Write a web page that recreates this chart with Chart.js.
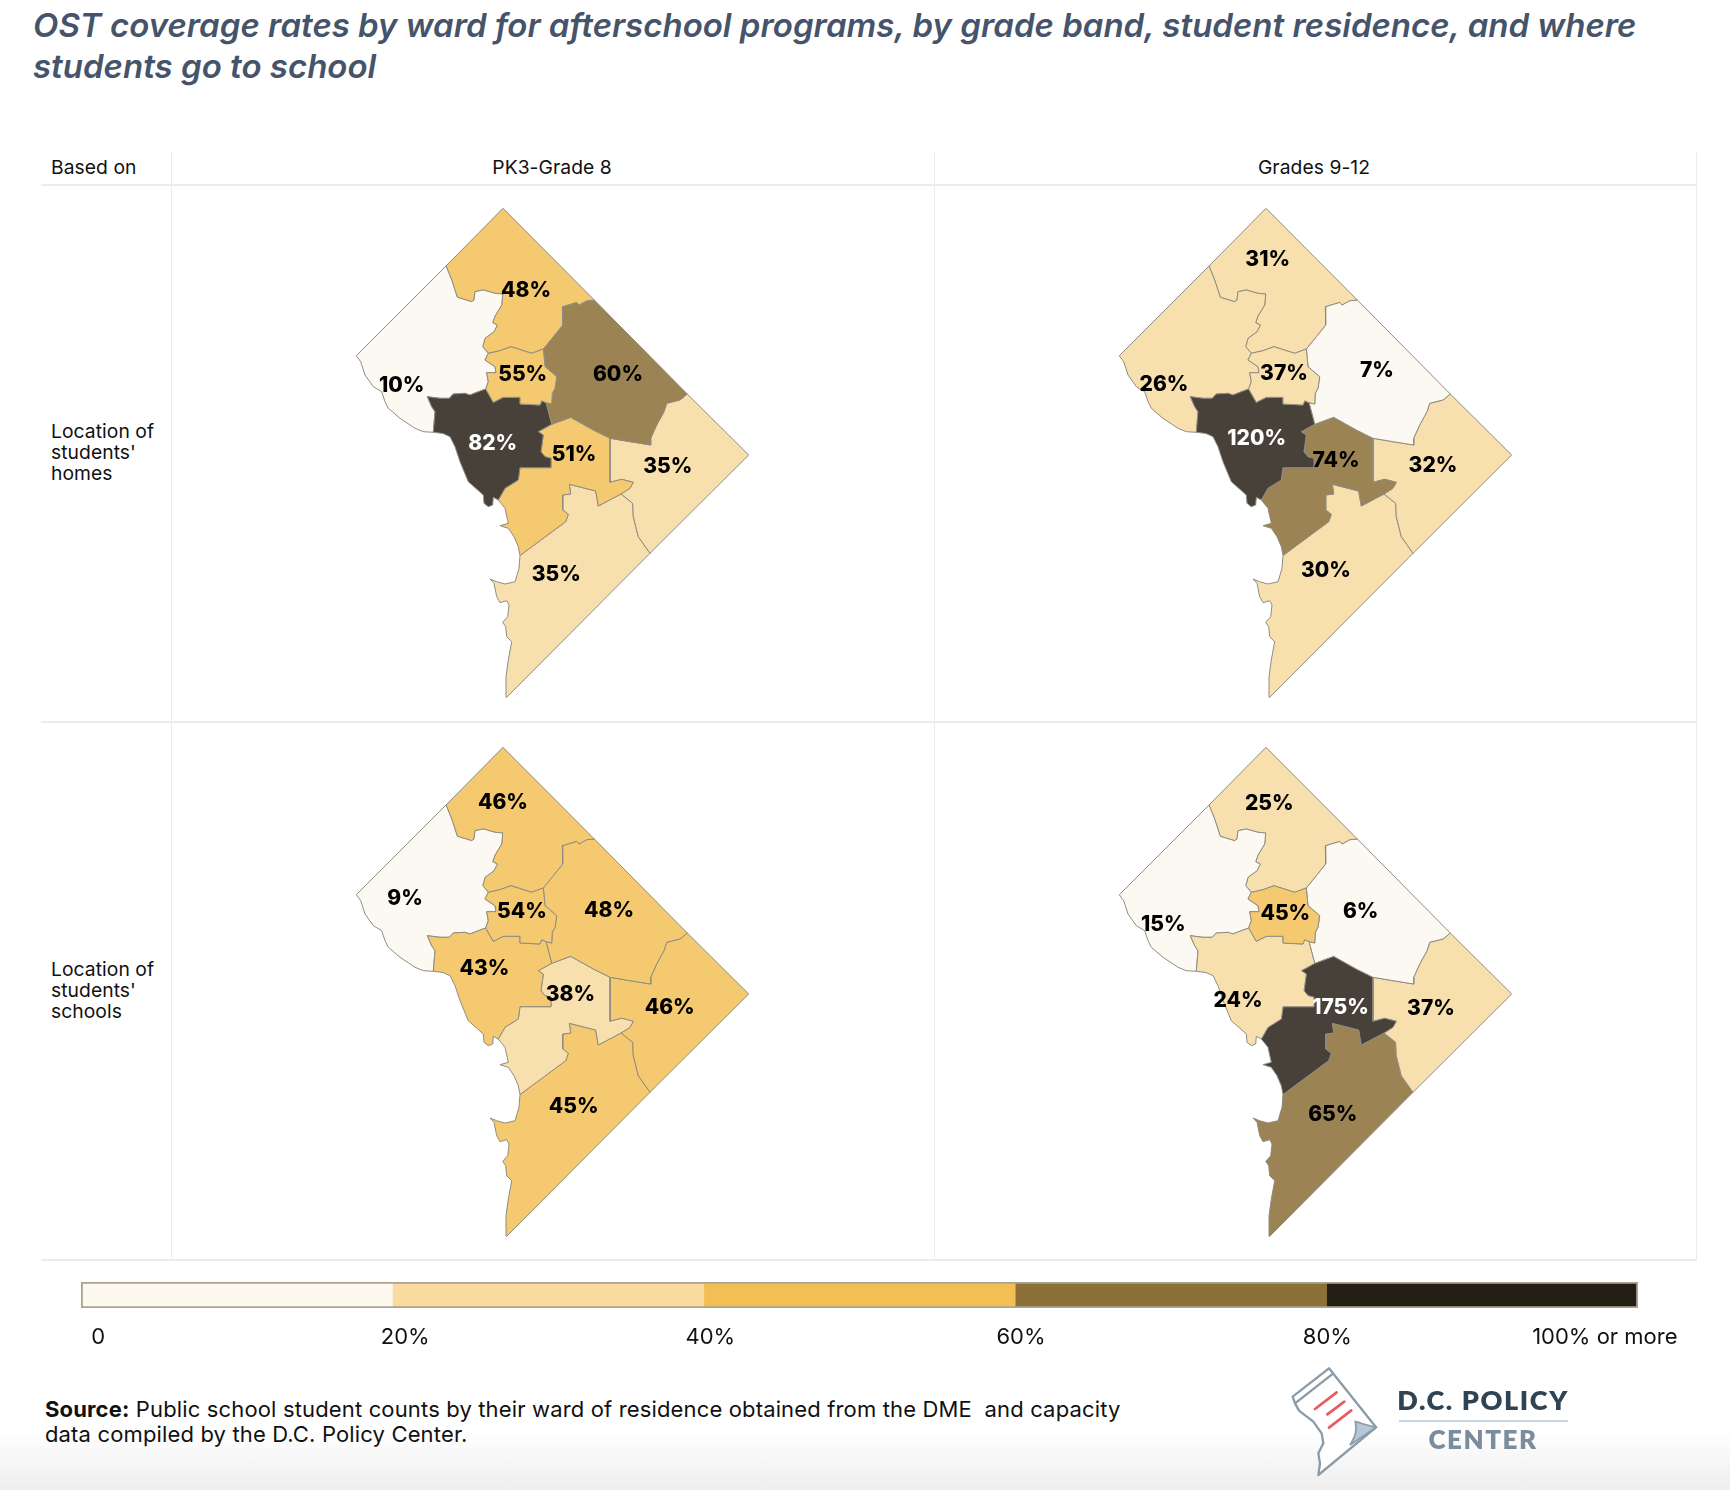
<!DOCTYPE html>
<html><head><meta charset="utf-8">
<script src="https://cdn.jsdelivr.net/npm/chart.js@4"></script>
<style>
html,body{margin:0;padding:0;background:#fff;width:1730px;height:1490px;overflow:hidden;font-family:Inter,sans-serif;color:#111}
.abs{position:absolute;white-space:nowrap}
.ln{position:absolute;background:#ececec}
canvas{position:absolute}
.t{font-size:19.3px;letter-spacing:0.05px}
</style></head><body>
<div class="abs" style="left:0;top:1430px;width:1730px;height:60px;background:linear-gradient(#fff,#eeeeee)"></div>
<div class="abs" id="title" style="left:33px;top:5px;font:italic 600 33px/41px Inter;color:#46546b">OST coverage rates by ward for afterschool programs, by grade band, student residence, and where<br>students go to school</div>

<div class="ln" style="left:171px;top:152px;width:1px;height:1108px"></div>
<div class="ln" style="left:934px;top:152px;width:1px;height:1108px"></div>
<div class="ln" style="left:1696px;top:152px;width:1px;height:1108px"></div>
<div class="ln" style="left:41px;top:184px;width:1656px;height:1.5px"></div>
<div class="ln" style="left:41px;top:721px;width:1656px;height:1.5px"></div>
<div class="ln" style="left:41px;top:1259px;width:1656px;height:1.5px"></div>

<div class="abs t" style="left:51px;top:156px;line-height:22px">Based on</div>
<div class="abs t" style="left:171px;width:762px;top:156px;line-height:22px;text-align:center">PK3-Grade 8</div>
<div class="abs t" style="left:933px;width:762px;top:156px;line-height:22px;text-align:center">Grades 9-12</div>
<div class="abs t" style="left:51px;top:421px;line-height:21px">Location of<br>students'<br>homes</div>
<div class="abs t" style="left:51px;top:959px;line-height:21px">Location of<br>students'<br>schools</div>

<canvas id="p0"></canvas><canvas id="p1"></canvas><canvas id="p2"></canvas><canvas id="p3"></canvas>
<canvas id="legend"></canvas>

<div class="abs" style="left:45px;top:1397px;font-size:22px;letter-spacing:0.15px;line-height:25px;color:#111"><b>Source:</b> Public school student counts by their ward of residence obtained from the DME&nbsp; and capacity<br>data compiled by the D.C. Policy Center.</div>

<svg class="abs" style="left:1250px;top:1240px" width="480" height="250" viewBox="0 0 1440 750">
<g fill="none" stroke="#8b9ba8" stroke-width="7" stroke-linejoin="round">
<path d="M237 385 L128 470 L135 490 L147 512 L190 545 L215 580 L220 610 L205 640 L210 670 L205 705 L378 562 Z" fill="#fff"/>
<path d="M135 490 L250 400"/>
</g>
<path d="M378 562 C350 555 335 550 316 545 C322 575 315 590 300 615 Z" fill="#b5c7d9" stroke="#8b9ba8" stroke-width="5"/>
<g stroke="#ea5a62" stroke-width="8" stroke-linecap="round">
<path d="M195 507 L260 457"/><path d="M232 523 L283 485"/><path d="M237 563 L304 511"/>
</g>
</svg>
<div class="abs" style="left:1380px;width:206px;top:1384px;text-align:center;font:800 27px/32px Lato;letter-spacing:1.6px;color:#2f4352">D.C. POLICY</div>
<div class="ln" style="left:1399px;top:1419.5px;width:169px;height:2.5px;background:#c8d5e2"></div>
<div class="abs" style="left:1380px;width:206px;top:1423px;text-align:center;font:800 26px/32px Lato;letter-spacing:1.5px;color:#7b8d9c">CENTER</div>

<script>
// ----- values (ward 1..8) -----
const wardNames = ['Ward 1','Ward 2','Ward 3','Ward 4','Ward 5','Ward 6','Ward 7','Ward 8'];
const homesElementary  = [55, 82, 10, 48, 60, 51, 35, 35];
const homesHigh        = [37,120, 26, 31,  7, 74, 32, 30];
const schoolsElementary= [54, 43,  9, 46, 48, 38, 46, 45];
const schoolsHigh      = [45, 24, 15, 25,  6,175, 37, 65];

const legendBreaks = [0,20,40,60,80,100];
const legendLabels = ['0','20%','40%','60%','80%','100% or more'];
const legendLabelAnchors = [1.1,20.82,40.42,60.37,80.05,97.87];
const legendColors = ['#fdf9ef','#f9dba0','#f3bf55','#8c7037','#231f14'];
const mapColors    = ['#fcf9f2','#f8e0ae','#f5c96f','#9c8354','#47413a'];

// ----- ward boundary geometry in map units -----
const b34=[[446,266],[451.7,280],[457.3,297.3],[471.7,301.7],[474,300],[475,291.7],[483.3,290],[495,293.3],[502.7,294],[501.7,305],[495,316],[492.7,322.7],[497.3,325],[494,331.7],[485,338.3],[482.7,346.7],[488.3,353.3]];
const b31=[[488.3,353.3],[485,360],[495,366.7],[496,372.7],[486.7,372.7],[488.3,381.7],[485.7,389]];
const b32=[[485.7,389],[478.3,391.7],[470,395],[465,393.3],[453.3,394],[449.3,398.3],[440,398.3],[427.3,396.7],[431.7,406.7],[435,411.7],[433.3,432.3]];
const b41=[[488.3,353.3],[500,350.7],[511,346.7],[531.7,353.3],[543.3,349]];
const b45=[[543.3,349],[553.3,336.7],[562.7,325],[562.3,306.7],[576.7,302.3],[579,305],[586.7,300.7],[594.3,300]];
const b15=[[543.3,349],[545,366.7],[556.7,376.7],[555,388.3],[552.3,393.3],[551.7,404],[546,402.7]];
const b12=[[485.7,389],[493.3,402.3],[503.3,397.3],[520,397.3],[520,404],[540,405],[541.7,400.7],[546,402.7]];
const b25=[[546,402.7],[551.7,424.3]];
const b56=[[551.7,424.3],[570.7,417.3],[593.3,430],[610,438.3]];
const b57=[[687.3,394],[680,400],[666.7,403.3],[664,411.7],[656.7,425],[650.7,438.3],[650.7,445],[630,441.7],[610,438.3]];
const b26=[[551.7,424.3],[538.3,431.7],[543.3,435],[541,451.7],[545,456.7],[551,458.3],[551,467.7],[520,467.7],[518.3,480],[505,488.3],[498.3,500]];
const b67=[[610,438.3],[610,482.3],[621.7,479.3],[633.3,482.3],[630,488.3],[621,494]];
const b68=[[621,494],[598.3,506],[595.7,491],[569.3,484.3],[570.7,494],[562.7,495],[562.7,510],[568.3,514.3],[565.7,521.7],[520,555.5]];
const b78=[[621,494],[632.7,503.3],[633.3,516.7],[638.3,536.7],[650,553.3]];
const river3=[[356.3,355.7],[360.7,361.7],[365,375],[373.3,386.7],[381.7,391.7],[385,401.7],[388.3,408.3],[400,418.3],[415,428.3],[423.3,431.7],[433.3,432.3]];
const river2=[[433.3,432.3],[443,433.5],[450,436.7],[455,446.7],[460,461.7],[468.3,481.7],[483.3,495],[484,503.3],[488.3,506.7],[492.7,505],[493.3,497.3],[498.3,500]];
const river6=[[498.3,500],[505,508.3],[508.3,523.3],[500,525.7],[508.3,528.3],[514,536.7],[518.3,546.7],[520,555.5]];
const river8=[[520,555.5],[519,568.3],[515,581.7],[505,584],[496.7,581.7],[490,579],[494,583.3],[496.7,596.7],[500,602.7],[506.7,600.7],[509,605],[507.7,616.7],[502.7,622.3],[505.7,626.7],[506.7,636.7],[511.7,641.7],[508.3,660],[506,676.7],[506.7,697.3]];
const apexN=[503,208.3], junction45=[594.3,300], junction57=[687.3,394], apexE=[748.7,455], junction78=[650,553.3];
const rev=a=>a.slice().reverse();
const wardShapes=[
 [...b41,...b15,...rev(b12),...rev(b31)],
 [...b32,...river2,...rev(b26),...rev(b25),...rev(b12)],
 [...river3,...rev(b32),...rev(b31),...rev(b34)],
 [apexN,...rev(b45),...rev(b41),...rev(b34)],
 [junction45,...b57,...rev(b56),...rev(b25),...rev(b15),...b45],
 [...b56,...b67,...b68,...rev(river6),...rev(b26)],
 [junction57,apexE,junction78,...rev(b78),...rev(b67),...rev(b57)],
 [...b78,...rev(river8),...rev(b68)]
].map(s=>[...s,s[0]].map(([x,y])=>({x,y})));

// label anchors (map units), per panel, ward order
const anchorsHomesElementary=[[522.7,374.3],[492.7,443.7],[401.7,385.3],[526,290.5],[618,374.3],[574,455],[667.7,466.3],[556.3,574.3]];
const anchorsHomesHigh=[[521,374],[493.7,439],[401,385],[504.7,259.2],[614,370.6],[573,461],[670,465.5],[563,570.3]];
const anchorsSchoolsElementary=[[522,372.5],[484.4,430],[405,359.5],[503,263.5],[609,371.5],[570.4,455.5],[669.7,468.5],[573.7,568]];
const anchorsSchoolsHigh=[[522.3,374.2],[475,462],[400.3,385.2],[506.3,264.2],[597.7,372.5],[577.5,468.5],[668,469.5],[569.8,575.5]];

const colorFor=v=>{let i=0;while(i<mapColors.length-1&&v>=legendBreaks[i+1])i++;return mapColors[i];};

const wardLabels={id:'wardLabels',afterDatasetsDraw(c,_,o){
  const {ctx,scales:{x,y}}=c;ctx.save();
  ctx.font='800 21px Inter';ctx.textAlign='center';ctx.textBaseline='middle';
  o.values.forEach((v,i)=>{
    ctx.fillStyle=v>=80?'#ffffff':'#000000';
    ctx.fillText(v+'%',x.getPixelForValue(o.anchors[i][0]),y.getPixelForValue(o.anchors[i][1]));
  });ctx.restore();}};

const panels=[
 {id:'p0',col:0,row:0,values:homesElementary,anchors:anchorsHomesElementary},
 {id:'p1',col:1,row:0,values:homesHigh,anchors:anchorsHomesHigh},
 {id:'p2',col:0,row:1,values:schoolsElementary,anchors:anchorsSchoolsElementary},
 {id:'p3',col:1,row:1,values:schoolsHigh,anchors:anchorsSchoolsHigh}
];
panels.forEach(p=>{
 const el=document.getElementById(p.id);
 el.width=762;el.height=537;
 el.style.left=(172+p.col*763)+'px';el.style.top=(185+p.row*538.5)+'px';
 new Chart(el,{type:'scatter',plugins:[wardLabels],
  data:{datasets:wardNames.map((n,i)=>({label:n,data:wardShapes[i],showLine:true,fill:'shape',
    backgroundColor:colorFor(p.values[i]),borderColor:'#8f8c82',borderWidth:1,pointRadius:0,tension:0,clip:false}))},
  options:{responsive:false,animation:false,events:[],devicePixelRatio:1,layout:{padding:0},
   plugins:{legend:{display:false},tooltip:{enabled:false},wardLabels:{values:p.values,anchors:p.anchors}},
   scales:{x:{type:'linear',min:172,max:934,display:false},y:{type:'linear',min:185,max:722,reverse:true,display:false}}}
 });
});

// legend bar
const lg=document.getElementById('legend');
lg.width=1730;lg.height=80;lg.style.left='0';lg.style.top='1270px';
new Chart(lg,{type:'bar',
 data:{labels:['scale'],datasets:[
  {data:[[legendBreaks[0],legendBreaks[5]]],backgroundColor:'rgba(0,0,0,0)',borderColor:'#aaa592',borderWidth:1.5,borderSkipped:false,order:0},
  ...legendColors.map((c,i)=>({data:[[legendBreaks[i],legendBreaks[i+1]]],backgroundColor:c,borderWidth:0,order:1}))]},
 options:{indexAxis:'y',responsive:false,animation:false,events:[],devicePixelRatio:1,
  layout:{padding:{left:81,right:92,top:12,bottom:0}},
  datasets:{bar:{grouped:false,barPercentage:1,categoryPercentage:1}},
  plugins:{legend:{display:false},tooltip:{enabled:false}},
  scales:{y:{display:false},
   x:{type:'linear',min:0,max:100,grid:{display:false},border:{display:false},
    afterBuildTicks(s){s.ticks=legendLabelAnchors.map(v=>({value:v}));},
    afterFit(s){s.height=42;},
    ticks:{autoSkip:false,maxRotation:0,padding:8,color:'#111',font:{family:'Inter',size:22},
     callback(v,i){return legendLabels[i];}}}}}
});
</script>
</body></html>
